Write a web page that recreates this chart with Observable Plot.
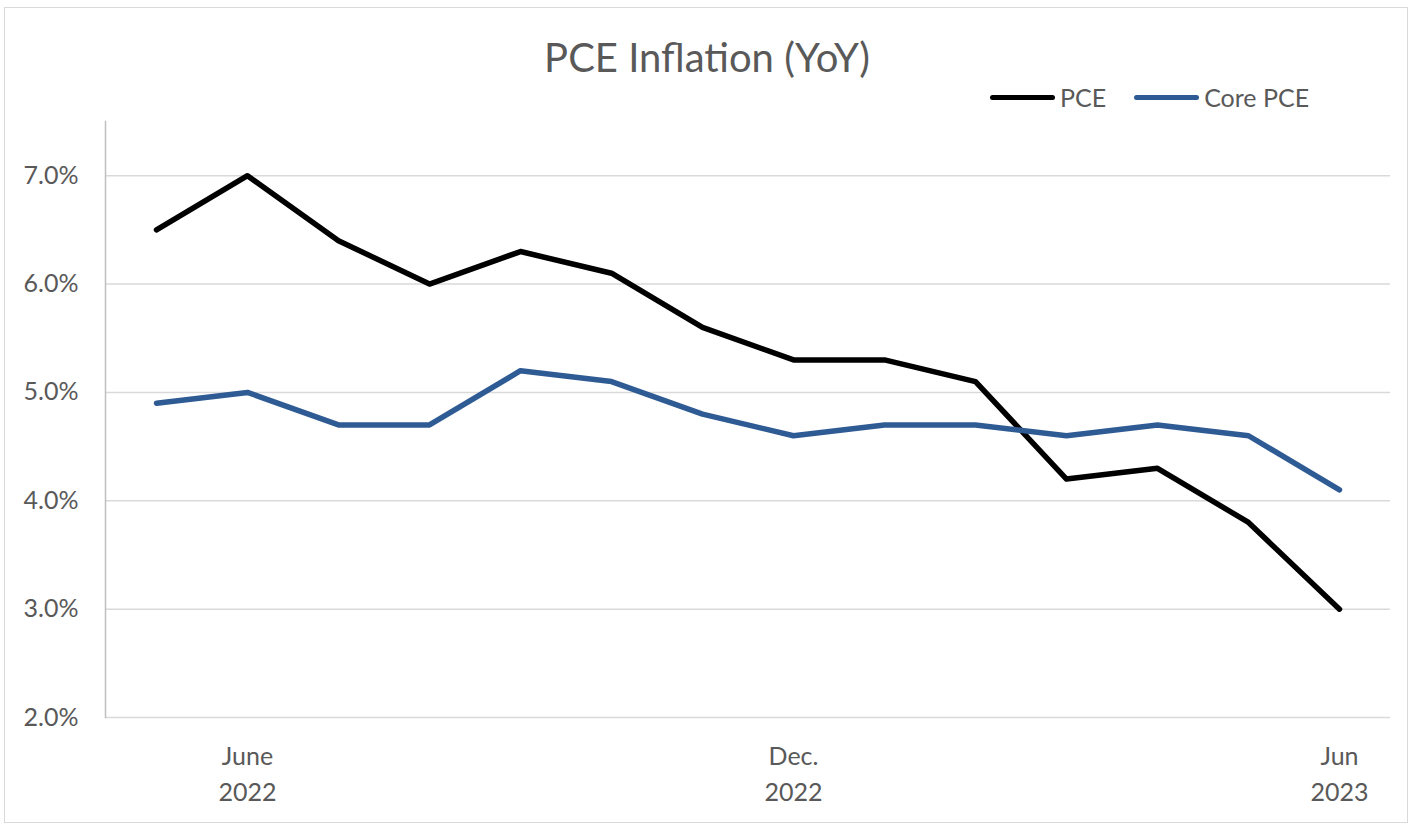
<!DOCTYPE html>
<html>
<head>
<meta charset="utf-8">
<script src="https://cdn.jsdelivr.net/npm/d3@7"></script>
<script src="https://cdn.jsdelivr.net/npm/@observablehq/plot@0.6"></script>
<style>
  html, body { margin: 0; padding: 0; background: #fff; }
  #wrap { position: relative; width: 1414px; height: 830px; font-family: Lato, "Open Sans", sans-serif; }
  #frame { position: absolute; left: 4px; top: 7px; width: 1402px; height: 814px; border: 1.5px solid #d9d9d9; pointer-events: none; }
  #title { position: absolute; left: 0; width: 1414px; top: 33px; text-align: center; font-size: 40px; color: #595959; }
  #legend { position: absolute; top: 82px; left: 990px; font-size: 25px; color: #595959; display: flex; align-items: center; }
  .sw { display: inline-block; width: 65px; height: 5px; border-radius: 3px; margin-right: 5px; }
  .item { display: flex; align-items: center; margin-right: 28px; }
  #chart { position: absolute; left: 0; top: 0; }
</style>
</head>
<body>
<div id="wrap">
  <div id="chart"></div>
  <div id="frame"></div>
  <div id="title">PCE Inflation (YoY)</div>
  <div id="legend">
    <div class="item"><span class="sw" style="background:#000"></span>PCE</div>
    <div class="item"><span class="sw" style="background:#2f5b94"></span>Core PCE</div>
  </div>
</div>
<script>
const months = ["2022-05","2022-06","2022-07","2022-08","2022-09","2022-10","2022-11","2022-12","2023-01","2023-02","2023-03","2023-04","2023-05","2023-06"];
const pce  = [6.5, 7.0, 6.4, 6.0, 6.3, 6.1, 5.6, 5.3, 5.3, 5.1, 4.2, 4.3, 3.8, 3.0];
const core = [4.9, 5.0, 4.7, 4.7, 5.2, 5.1, 4.8, 4.6, 4.7, 4.7, 4.6, 4.7, 4.6, 4.1];
const yTicks = [2, 3, 4, 5, 6, 7];
const xTickMonths = ["2022-06", "2022-12", "2023-06"];
const xTickLabels = ["June\n2022", "Dec.\n2022", "Jun\n2023"];
const seriesNames = ["PCE", "Core PCE"];
const seriesColors = ["#000000", "#2f5b94"];

const rows = [];
months.forEach((m, i) => {
  rows.push({month: m, value: pce[i], series: seriesNames[0]});
});
months.forEach((m, i) => {
  rows.push({month: m, value: core[i], series: seriesNames[1]});
});

const chart = Plot.plot({
  width: 1414,
  height: 830,
  marginLeft: 105,
  marginRight: 24,
  marginTop: 121,
  marginBottom: 113,
  style: {fontFamily: "Lato, 'Open Sans', sans-serif", background: "transparent"},
  x: {type: "point", domain: months, range: [150, 1345], padding: 0},
  y: {domain: [2, 7.5]},
  color: {domain: seriesNames, range: seriesColors},
  marks: [
    Plot.ruleY(yTicks, {stroke: "#d9d9d9", strokeWidth: 1.5}),
    Plot.frame({anchor: "left", stroke: "#bfbfbf", strokeWidth: 1.5}),
    Plot.axisY({ticks: yTicks, tickFormat: d => d.toFixed(1) + "%", tickSize: 0, tickPadding: 27, fontSize: 25, fill: "#595959", label: null}),
    Plot.axisX({ticks: xTickMonths, tickFormat: d => xTickLabels[xTickMonths.indexOf(d)], tickSize: 0, tickPadding: 22, fontSize: 25, fill: "#595959", lineHeight: 1.45, label: null}),
    Plot.line(rows, {x: "month", y: "value", z: "series", stroke: "series", strokeWidth: 5.5, strokeLinejoin: "round", strokeLinecap: "round"})
  ]
});
document.getElementById("chart").appendChild(chart);
</script>
</body>
</html>
